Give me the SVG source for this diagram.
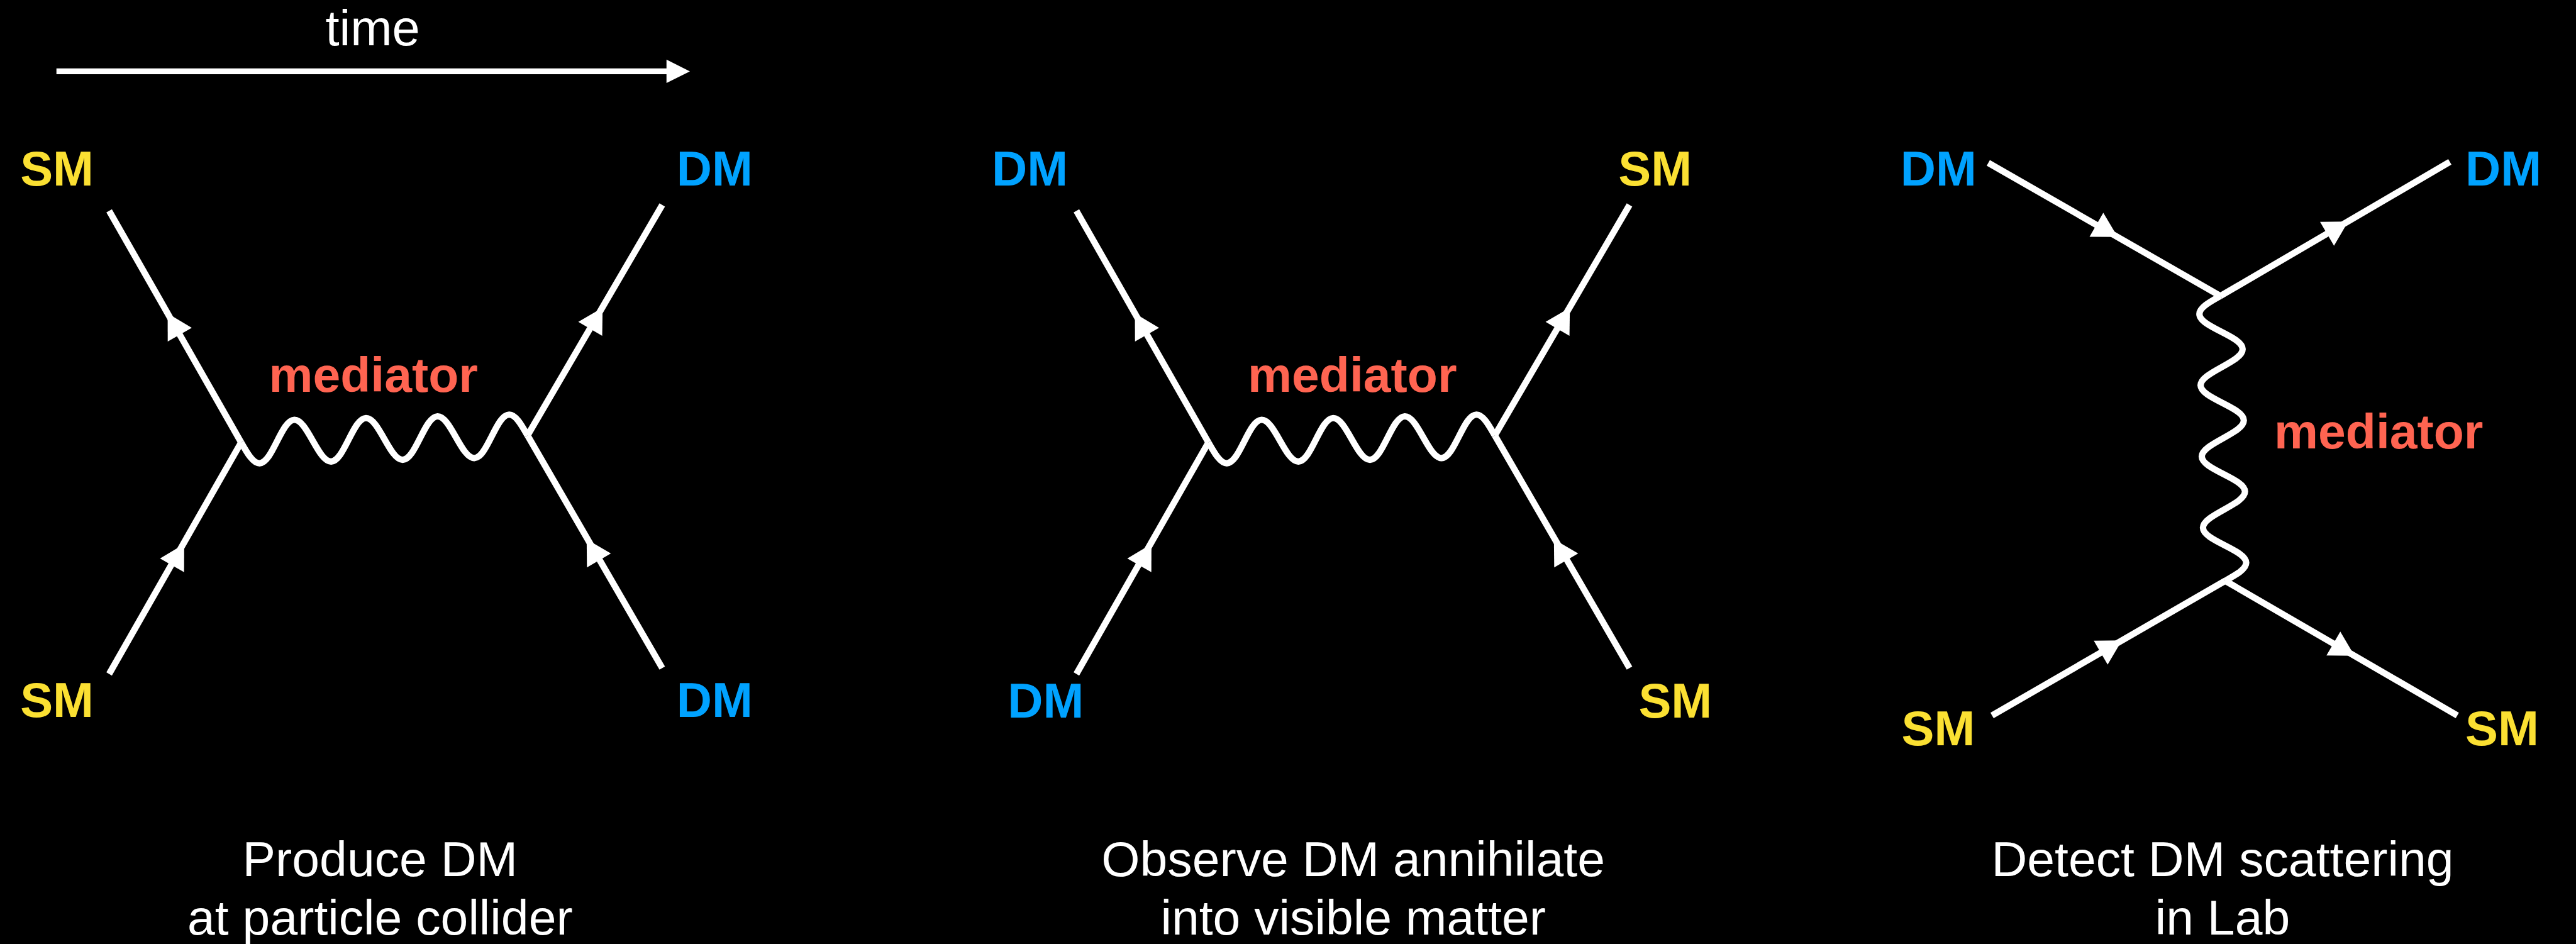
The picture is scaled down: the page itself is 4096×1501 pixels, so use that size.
<svg xmlns="http://www.w3.org/2000/svg" width="4096" height="1501" viewBox="0 0 4096 1501">
<defs>
<style>
text{font-family:"Liberation Sans",Arial,Helvetica,sans-serif}
.lbl{font-weight:bold;font-size:92px}
.sm{fill:#FBE032}
.dm{fill:#00A2FF}
.med{fill:#FF6451;font-weight:bold;font-size:93px}
.cap{fill:#FFFFFF;font-size:93px;text-anchor:middle}
.time{fill:#FFFFFF;font-size:94px;text-anchor:middle}
.ln{stroke:#FFFFFF;stroke-width:12;fill:none;stroke-linecap:butt}
.axis{stroke:#FFFFFF;stroke-width:11;fill:none;stroke-linecap:butt}
.ah{fill:#FFFFFF}
</style>
<path id="ah" class="ah" d="M0,0 L-46,-26 L-46,26 Z"/>
<path id="ah-axis" class="ah" d="M0,0 L-44,-22 L-44,22 Z"/>
<path id="wave" class="ln" d="M0,0 c10.97,20.49 21.46,40 33.63,40 s22.66,-19.51 33.63,-40 s21.46,-40 33.63,-40 s22.66,19.51 33.63,40 s21.46,40 33.63,40 s22.66,-19.51 33.63,-40 s21.46,-40 33.63,-40 s22.66,19.51 33.63,40 s21.46,40 33.63,40 s22.66,-19.51 33.63,-40 s21.46,-40 33.63,-40 s22.66,19.51 33.63,40 s21.46,40 33.63,40 s22.66,-19.51 33.63,-40 s21.46,-40 33.63,-40 s22.66,19.51 33.63,40"/>
</defs>
<rect x="0" y="0" width="4096" height="1501" fill="#000000"/>
<g transform="scale(0.84646)">
  <g id="time-axis">
    <text class="time" x="700" y="85">time</text>
    <line class="axis" x1="106" y1="134" x2="1258" y2="134"/>
    <use href="#ah-axis" transform="translate(1296,134)"/>
  </g>

  <g id="connectors">
    <g id="panel1-lines">
      <line class="ln" x1="453" y1="831" x2="205" y2="396"/>
      <line class="ln" x1="205" y1="1266" x2="453" y2="831"/>
      <line class="ln" x1="991" y1="818" x2="1244" y2="385"/>
      <line class="ln" x1="1244" y1="1255" x2="991" y2="818"/>
      <use href="#wave" transform="translate(453,831) rotate(-1.384)"/>
      <use href="#ah" transform="translate(314.9,588.7) rotate(-119.7)"/>
      <use href="#ah" transform="translate(346,1022) rotate(-60.3)"/>
      <use href="#ah" transform="translate(1132,578) rotate(-59.7)"/>
      <use href="#ah" transform="translate(1102,1013) rotate(-120.1)"/>
    </g>
    <g id="panel2-lines" transform="translate(1817,0)">
      <line class="ln" x1="453" y1="831" x2="205" y2="396"/>
      <line class="ln" x1="205" y1="1266" x2="453" y2="831"/>
      <line class="ln" x1="991" y1="818" x2="1244" y2="385"/>
      <line class="ln" x1="1244" y1="1255" x2="991" y2="818"/>
      <use href="#wave" transform="translate(453,831) rotate(-1.384)"/>
      <use href="#ah" transform="translate(314.9,588.7) rotate(-119.7)"/>
      <use href="#ah" transform="translate(346,1022) rotate(-60.3)"/>
      <use href="#ah" transform="translate(1132,578) rotate(-59.7)"/>
      <use href="#ah" transform="translate(1102,1013) rotate(-120.1)"/>
    </g>
    <g id="panel3-lines">
      <line class="ln" x1="3735" y1="306" x2="4171" y2="556"/>
      <line class="ln" x1="4171" y1="556" x2="4602" y2="304"/>
      <line class="ln" x1="3742" y1="1344" x2="4180" y2="1091"/>
      <line class="ln" x1="4180" y1="1091" x2="4616" y2="1344"/>
      <use href="#wave" transform="translate(4171,556) rotate(89.04) scale(0.9946,1)"/>
      <use href="#ah" transform="translate(3978,445) rotate(29.8)"/>
      <use href="#ah" transform="translate(4411,416) rotate(-30.3)"/>
      <use href="#ah" transform="translate(3986,1203) rotate(-30)"/>
      <use href="#ah" transform="translate(4423,1232) rotate(30.1)"/>
    </g>
  </g>

  <g id="p1-sm-in-top"><text class="lbl sm" x="38" y="349">SM</text></g>
  <g id="p1-sm-in-bottom"><text class="lbl sm" x="38" y="1347">SM</text></g>
  <g id="p1-dm-out-top"><text class="lbl dm" x="1271" y="349">DM</text></g>
  <g id="p1-dm-out-bottom"><text class="lbl dm" x="1271" y="1347">DM</text></g>
  <g id="p1-mediator"><text class="med" x="505" y="736">mediator</text></g>
  <g id="p1-caption">
    <text class="cap" x="714" y="1646">Produce DM</text>
    <text class="cap" x="714" y="1755">at particle collider</text>
  </g>

  <g id="p2-dm-in-top"><text class="lbl dm" x="1863" y="349">DM</text></g>
  <g id="p2-dm-in-bottom"><text class="lbl dm" x="1893" y="1348">DM</text></g>
  <g id="p2-sm-out-top"><text class="lbl sm" x="3040" y="349">SM</text></g>
  <g id="p2-sm-out-bottom"><text class="lbl sm" x="3078" y="1348">SM</text></g>
  <g id="p2-mediator"><text class="med" x="2344" y="736">mediator</text></g>
  <g id="p2-caption">
    <text class="cap" x="2542" y="1646">Observe DM annihilate</text>
    <text class="cap" x="2542" y="1755">into visible matter</text>
  </g>

  <g id="p3-dm-in"><text class="lbl dm" x="3570" y="349">DM</text></g>
  <g id="p3-dm-out"><text class="lbl dm" x="4631" y="349">DM</text></g>
  <g id="p3-sm-in"><text class="lbl sm" x="3572" y="1400">SM</text></g>
  <g id="p3-sm-out"><text class="lbl sm" x="4631" y="1400">SM</text></g>
  <g id="p3-mediator"><text class="med" x="4272" y="842">mediator</text></g>
  <g id="p3-caption">
    <text class="cap" x="4175" y="1646">Detect DM scattering</text>
    <text class="cap" x="4175" y="1755">in Lab</text>
  </g>
</g>
</svg>
